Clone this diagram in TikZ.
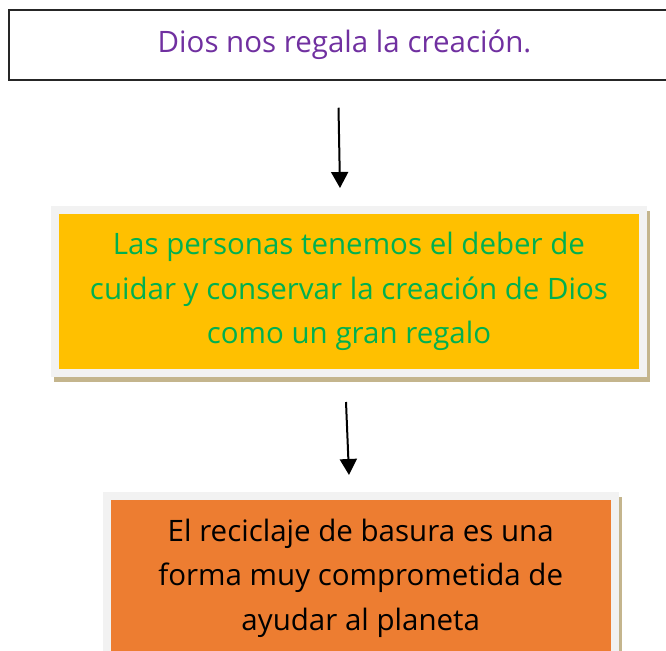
\documentclass[tikz,border=0pt]{standalone}
\usepackage{fontspec}
\setmainfont{Open Sans}
\usetikzlibrary{arrows.meta,backgrounds}

\definecolor{giftPurple}{HTML}{7030A0}
\definecolor{careGreen}{HTML}{00B050}
\definecolor{careYellow}{HTML}{FFC000}
\definecolor{recOrange}{HTML}{ED7D31}
\definecolor{frameGray}{HTML}{F2F2F2}
\definecolor{shadowTan}{HTML}{C4B58D}

\tikzset{
  boxtext/.style={align=center, font=\fontsize{29.5}{44.5}\selectfont, inner sep=0pt},
  panel/.style={boxtext, draw=frameGray, line width=8pt},
  flow/.style={-{Triangle[width=17pt,length=16pt]}, line width=2pt, black}
}

\begin{document}
\begin{tikzpicture}[x=1pt, y=-1pt]
\useasboundingbox (0,0) rectangle (666,650);
\clip (0,0) rectangle (666,650);

% Top box
\node[boxtext, draw=black!85, line width=1.5pt, text=giftPurple,
      minimum width=671pt, minimum height=70pt] (gift) at (344.5,45) {Dios nos regala la creación.};

% Middle box (duty)
\node[panel, fill=careYellow, text=careGreen,
      minimum width=588pt, minimum height=163pt] (care) at (349,291.5)
      {Las personas tenemos el deber de\\cuidar y conservar la creación de Dios\\como un gran regalo};

% Bottom box (recycling)
\node[panel, fill=recOrange, text=black,
      minimum width=507.5pt, minimum height=164pt] (recycle) at (360.75,578)
      {El reciclaje de basura es una\\forma muy comprometida de\\ayudar al planeta};

% Shadows behind the panels
\begin{scope}[on background layer]
\fill[shadowTan] ([shift={(3pt,-5pt)}]care.south west) rectangle ([shift={(3pt,-5pt)}]care.north east);
\fill[shadowTan] ([shift={(3pt,-5pt)}]recycle.south west) rectangle ([shift={(3pt,-5pt)}]recycle.north east);
\end{scope}

% Arrows
\draw[flow] ([xshift=-6pt,yshift=-27pt]gift.south) -- ([xshift=-9pt,yshift=18pt]care.north);
\draw[flow] ([xshift=-3pt,yshift=-25pt]care.south) -- ([xshift=-11.75pt,yshift=17pt]recycle.north);

\end{tikzpicture}
\end{document}
